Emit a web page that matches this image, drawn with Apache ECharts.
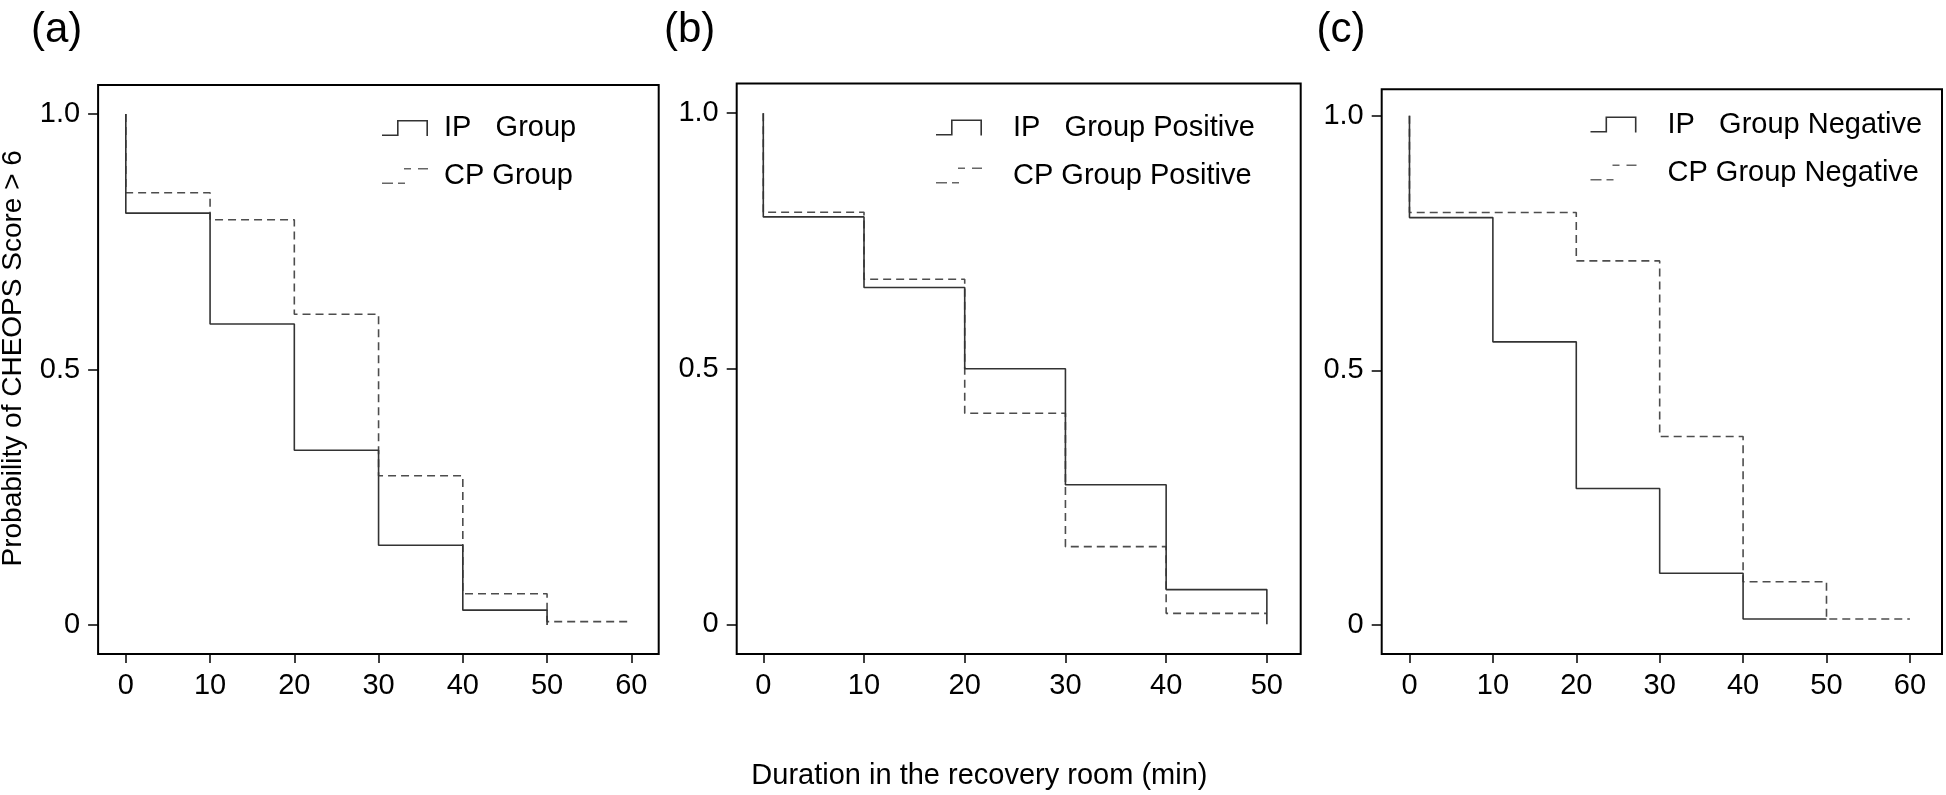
<!DOCTYPE html>
<html><head><meta charset="utf-8">
<script src="https://cdn.jsdelivr.net/npm/echarts@6/dist/echarts.min.js"></script>
<style>html,body{margin:0;padding:0;background:#fff}#c{width:1946px;height:795px}</style>
</head><body><div id="c"></div>
<script>
// ---- tick labels & texts ----
const xTicks60 = [0, 10, 20, 30, 40, 50, 60];
const xTicks50 = [0, 10, 20, 30, 40, 50];
const yTicks = [0, 0.5, 1];
const yTickLabels = ['0', '0.5', '1.0'];
const panelLabels = ['(a)', '(b)', '(c)'];
const xTitle = 'Duration in the recovery room (min)';
const yTitle = 'Probability of CHEOPS Score > 6';
const ipNames = ['IP   Group', 'IP   Group Positive', 'IP   Group Negative'];
const cpNames = ['CP Group', 'CP Group Positive', 'CP Group Negative'];

// ---- panel (a) ----
const aIPTime = [0, 0, 10, 20, 30, 40, 50];
const aIPSurv = [1, 0.806, 0.589, 0.342, 0.156, 0.029, 0];
const aCPTime = [0, 0, 10, 20, 30, 40, 50, 60];
const aCPSurv = [1, 0.846, 0.793, 0.608, 0.292, 0.061, 0.0065, 0.0065];
// ---- panel (b) ----
const bIPTime = [0, 0, 10, 20, 30, 40, 50];
const bIPSurv = [1, 0.797, 0.659, 0.500, 0.273, 0.068, 0];
const bCPTime = [0, 0, 10, 20, 30, 40, 50];
const bCPSurv = [1, 0.806, 0.675, 0.413, 0.152, 0.0215, 0.0215];
// ---- panel (c) ----
const cIPTime = [0, 0, 10, 20, 30, 40, 50];
const cIPSurv = [1, 0.800, 0.556, 0.268, 0.1015, 0.0118, 0.0118];
const cCPTime = [0, 0, 20, 30, 40, 50, 60];
const cCPSurv = [1, 0.810, 0.715, 0.370, 0.085, 0.0118, 0.0118];

const FONT = '"Liberation Sans", Arial, sans-serif';
const ipColor = '#333333';
const cpColor = '#4d4d4d';
const ipIcon = 'path://M0,14.4H15V0H46V16H44.4V1.6H16.6V16H0Z';
const cpIcon = 'path://M0,14.4h11v1.6h-11z M16,14.4h7v1.6h-7z M22,0h7v1.6h-7z M36,0h10v1.6h-10z';

const grids = [
  {left: 98.1, top: 85, width: 560.6, height: 569},
  {left: 736.7, top: 83.5, width: 564, height: 570.5},
  {left: 1381.7, top: 89.3, width: 560.3, height: 564.7}
];
const xRanges = [[-3.29, 63.25], [-2.64, 53.36], [-3.33, 63.85]];
const yRanges = [[-0.0568, 1.0568], [-0.058, 1.058], [-0.057, 1.052]];
const xTickSets = [xTicks60, xTicks50, xTicks60];
const legendPos = [
  {left: 382, top: 113.5, pad: 11},
  {left: 936, top: 113, pad: 26},
  {left: 1590.5, top: 110, pad: 26}
];
const panelLabelX = [31, 664, 1316.5];

const ipData = [[aIPTime, aIPSurv], [bIPTime, bIPSurv], [cIPTime, cIPSurv]];
const cpData = [[aCPTime, aCPSurv], [bCPTime, bCPSurv], [cCPTime, cCPSurv]];

function pairs(t, s) { return t.map((v, i) => [v, s[i]]); }

const option = {
  animation: false,
  backgroundColor: '#fff',
  grid: grids.map(g => Object.assign({
    show: true, borderColor: '#000', borderWidth: 2, backgroundColor: 'transparent',
    containLabel: false, outerBoundsMode: 'none'
  }, g)),
  xAxis: grids.map((g, i) => ({
    type: 'value', gridIndex: i, min: xRanges[i][0], max: xRanges[i][1],
    position: 'bottom',
    splitLine: {show: false},
    axisLine: {show: false, onZero: false},
    axisTick: {show: true, inside: false, customValues: xTickSets[i], length: 9, lineStyle: {color: '#000', width: 1.5}},
    axisLabel: {show: true, customValues: xTickSets[i], margin: 17, fontSize: 29, color: '#000', fontFamily: FONT}
  })),
  yAxis: grids.map((g, i) => ({
    type: 'value', gridIndex: i, min: yRanges[i][0], max: yRanges[i][1],
    position: 'left',
    splitLine: {show: false},
    axisLine: {show: false, onZero: false},
    axisTick: {show: true, inside: false, customValues: yTicks, length: 10, lineStyle: {color: '#000', width: 1.5}},
    axisLabel: {show: true, customValues: yTicks, margin: 18, fontSize: 29, color: '#000', fontFamily: FONT,
      formatter: v => { const k = yTicks.findIndex(t => Math.abs(t - v) < 1e-9); return k >= 0 ? yTickLabels[k] : ''; }}
  })),
  legend: legendPos.map((p, i) => ({
    orient: 'vertical', left: p.left, top: p.top, padding: 0,
    itemWidth: 46, itemHeight: 16, itemGap: 19, selectedMode: false,
    symbolKeepAspect: false,
    itemStyle: {borderWidth: 0},
    textStyle: {fontSize: 29, fontFamily: FONT, color: '#000', lineHeight: 16, padding: [0, 0, 0, p.pad]},
    data: [{name: ipNames[i], icon: ipIcon, itemStyle: {color: ipColor}},
           {name: cpNames[i], icon: cpIcon, itemStyle: {color: '#666'}}]
  })),
  series: [].concat(...grids.map((g, i) => [
    {
      name: cpNames[i], type: 'line', step: 'end', xAxisIndex: i, yAxisIndex: i,
      symbol: 'none', silent: true, z: 2,
      lineStyle: {color: cpColor, width: 1.6, type: [8, 5]},
      itemStyle: {color: cpColor},
      data: pairs(cpData[i][0], cpData[i][1])
    },
    {
      name: ipNames[i], type: 'line', step: 'end', xAxisIndex: i, yAxisIndex: i,
      symbol: 'none', silent: true, z: 3,
      lineStyle: {color: ipColor, width: 1.6, type: 'solid'},
      itemStyle: {color: ipColor},
      data: pairs(ipData[i][0], ipData[i][1])
    }
  ])),
  graphic: [
    ...panelLabels.map((t, i) => ({
      type: 'text', x: panelLabelX[i], y: 30, silent: true,
      style: {text: t, font: '42px ' + FONT, fill: '#000', align: 'left', verticalAlign: 'middle'}
    })),
    {type: 'text', x: 979.4, y: 776, silent: true,
      style: {text: xTitle, font: '29px ' + FONT, fill: '#000', align: 'center', verticalAlign: 'middle'}},
    {type: 'text', x: 13, y: 358.3, rotation: Math.PI / 2, silent: true,
      style: {text: yTitle, font: '28px ' + FONT, fill: '#000', align: 'center', verticalAlign: 'middle'}}
  ]
};

const chart = echarts.init(document.getElementById('c'), null, {renderer: 'canvas'});
chart.setOption(option);
</script>
</body></html>
